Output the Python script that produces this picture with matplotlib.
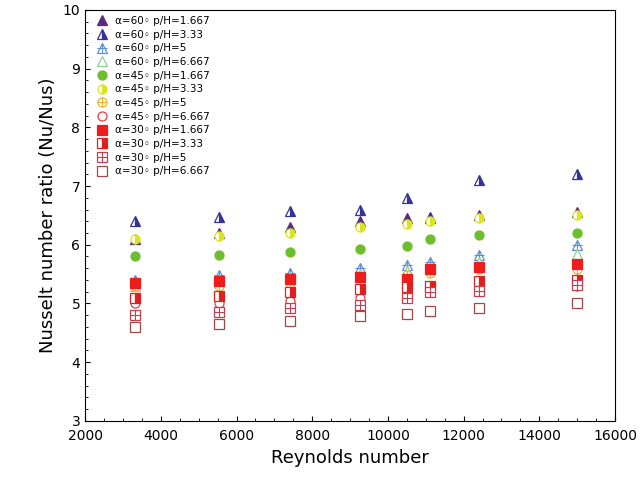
import matplotlib
matplotlib.use("Agg")
import matplotlib.pyplot as plt
import numpy as np

re = [3330, 5550, 7400, 9250, 10500, 11100, 12400, 15000]

a60_167 = [6.10, 6.20, 6.30, 6.40, 6.45, 6.48, 6.50, 6.55]
a60_333 = [6.40, 6.47, 6.58, 6.60, 6.80, 6.45, 7.10, 7.20]
a60_5 = [5.40, 5.48, 5.52, 5.60, 5.65, 5.70, 5.82, 6.00]
a60_6667 = [5.30, 5.40, 5.45, 5.50, 5.55, 5.60, 5.70, 5.85]
a45_167 = [5.80, 5.83, 5.88, 5.92, 5.98, 6.10, 6.17, 6.20]
a45_333 = [6.10, 6.15, 6.20, 6.30, 6.35, 6.40, 6.45, 6.50]
a45_5 = [5.30, 5.30, 5.35, 5.38, 5.48, 5.52, 5.58, 5.58]
a45_6667 = [5.00, 5.00, 5.05, 5.10, 5.12, 5.20, 5.25, 5.30]
a30_167 = [5.35, 5.38, 5.42, 5.45, 5.42, 5.58, 5.62, 5.67]
a30_333 = [5.10, 5.12, 5.20, 5.25, 5.28, 5.30, 5.38, 5.40]
a30_5 = [4.80, 4.85, 4.92, 4.97, 5.10, 5.20, 5.22, 5.32]
a30_6667 = [4.60, 4.65, 4.70, 4.78, 4.82, 4.88, 4.92, 5.00]

# (values, marker, color, fill, crossed)
series = [
    (a60_167, "^", "#5b2a86", "full", False),
    (a60_333, "^", "#33339a", "right", False),
    (a60_5, "^", "#5b8fd6", "none", True),
    (a60_6667, "^", "#8fd18f", "none", False),
    (a45_167, "o", "#6dbe2d", "full", False),
    (a45_333, "o", "#d8e61a", "right", False),
    (a45_5, "o", "#f0b030", "none", True),
    (a45_6667, "o", "#e04040", "none", False),
    (a30_167, "s", "#ee1c1c", "full", False),
    (a30_333, "s", "#e02020", "right", False),
    (a30_5, "s", "#c83c50", "none", True),
    (a30_6667, "s", "#a04848", "none", False),
]
labels = ["α=60◦ p/H=1.667", "α=60◦ p/H=3.33", "α=60◦ p/H=5", "α=60◦ p/H=6.667",
          "α=45◦ p/H=1.667", "α=45◦ p/H=3.33", "α=45◦ p/H=5", "α=45◦ p/H=6.667",
          "α=30◦ p/H=1.667", "α=30◦ p/H=3.33", "α=30◦ p/H=5", "α=30◦ p/H=6.667"]

fig = plt.figure(figsize=(6.4, 4.94), dpi=100)
ax = fig.add_axes([0.133, 0.148, 0.828, 0.832])
handles = []
for (vals, mk, col, fs, crossed), lab in zip(series, labels):
    if fs == "none":
        h, = ax.plot(re, vals, mk, ms=6.5, mfc="white", mec=col, mew=0.9, ls="none")
    else:
        h, = ax.plot(re, vals, mk, ms=6.5, color=col, mec=col, fillstyle=fs,
                     markerfacecoloralt="white", mew=0.9, ls="none")
    hh = h
    if crossed:
        c, = ax.plot(re, vals, "+", ms=6.5, color=col, mew=0.8, ls="none")
        hh = (h, c)
    handles.append(hh)

ax.legend(handles, labels, loc="upper left", frameon=False, fontsize=7.5,
          handletextpad=0.3, labelspacing=0.35, borderaxespad=0.2)
ax.set_xlim(2000, 16000)
ax.set_ylim(3, 10)
ax.set_xticks(np.arange(2000, 16001, 2000))
ax.minorticks_on()
ax.tick_params(which="both", direction="in", top=False, right=False)
ax.tick_params(axis="x", pad=6)
ax.set_xlabel("Reynolds number", fontsize=13)
ax.set_ylabel("Nusselt number ratio (Nu/Nus)", fontsize=13)
plt.savefig("out.png", dpi=100)
